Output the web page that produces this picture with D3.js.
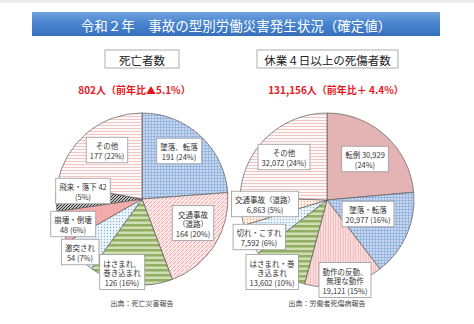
<!DOCTYPE html>
<meta charset="utf-8">
<style>
body { margin: 0; background: #fff; }
svg { display: block; font-family: "Noto Sans CJK JP", sans-serif; }
.lbl text { font-size: 7.5px; fill: #333; text-anchor: middle; dominant-baseline: central; }
.lbl rect { fill: #fff; stroke: #9a9a9a; stroke-width: 0.8; }
</style>
<svg id="chart" width="474" height="324"></svg>
<script src="https://cdn.jsdelivr.net/npm/d3@7"></script>
<script>

// left pie: deaths (死亡者数)
var fatalNames  = ["墜落、転落", "交通事故|（道路）", "はさまれ、|巻き込まれ", "激突され", "崩壊・倒壊", "飛来・落下", "その他"];
var fatalValues = [191, 164, 126, 54, 48, 42, 177];
var fatalInline = [5];      // value written next to the name

// right pie: injuries, 4+ days off (休業4日以上の死傷者数)
var injuryNames  = ["転倒", "墜落・転落", "動作の反動、|無理な動作", "はさまれ・巻|き込まれ", "切れ・こすれ", "交通事故（道路）", "その他"];
var injuryValues = [30929, 20977, 19121, 13602, 7592, 6863, 32072];
var injuryInline = [0];

var titleText   = "令和２年　事故の型別労働災害発生状況（確定値）";
var fatalHead   = "死亡者数";
var injuryHead  = "休業４日以上の死傷者数";
var fatalTotal  = "802人（前年比▲5.1%）";
var injuryTotal = "131,156人（前年比＋ 4.4%）";
var fatalSrc    = "出典：死亡災害報告";
var injurySrc   = "出典：労働者死傷病報告";

// layout only
var fatalFills  = ["gridBlue", "diagRed", "stripeGreen", "dotBlue", "pinkFill", "hatchBlack", "linesPink"];
var injuryFills = ["linesRose", "gridBlue", "vertPink", "stripeGreen", "dotBlue", "dotOrange", "linesPink"];
var fatalLabelPos  = [[37,-48],[51,24],[-20,73],[-62,53],[-69,25],[-59,-8],[-35,-49]];
var injuryLabelPos = [[38,-41],[41,14],[18,80],[-55,72],[-68,37],[-62,4],[-43,-43]];

var svg = d3.select("#chart");
var defs = svg.append("defs");

function pattern(id, w, h, bg) {
  var p = defs.append("pattern").attr("id", id)
    .attr("patternUnits", "userSpaceOnUse")
    .attr("width", w).attr("height", h);
  p.append("rect").attr("width", w).attr("height", h).attr("fill", bg);
  return p;
}

pattern("gridBlue", 3, 3, "#c6d7f0")
  .append("path").attr("d", "M0,0.5H3M0.5,0V3")
  .attr("stroke", "#85a4d6").attr("stroke-width", 0.6);
pattern("diagRed", 4, 4, "#fce6e6")
  .append("path").attr("d", "M0,4L4,0")
  .attr("stroke", "#e27070").attr("stroke-width", 0.9).attr("stroke-dasharray", "1 1");
pattern("stripeGreen", 4, 5, "#cfdeb3")
  .append("rect").attr("width", 4).attr("height", 2.5).attr("fill", "#91ae62");
pattern("dotBlue", 3, 3, "#eef6fb")
  .append("circle").attr("cx", 1.5).attr("cy", 1.5).attr("r", 0.7).attr("fill", "#7fb2d6");
pattern("pinkFill", 4, 4, "#f3a6a6")
  .append("path").attr("d", "M0,4L4,0")
  .attr("stroke", "#f8c4c4").attr("stroke-width", 0.6);
pattern("hatchBlack", 3, 3, "#fff")
  .append("path").attr("d", "M0,3L3,0M-1,1L1,-1M2,4L4,2")
  .attr("stroke", "#222").attr("stroke-width", 1.1);
pattern("linesPink", 4, 3, "#fff")
  .append("path").attr("d", "M0,1.5H4")
  .attr("stroke", "#f2c4c4").attr("stroke-width", 1.2);
pattern("linesRose", 4, 2, "#e6b8b7")
  .append("path").attr("d", "M0,1H4")
  .attr("stroke", "#dca9a8").attr("stroke-width", 0.5);
pattern("vertPink", 2.5, 4, "#fbe1e1")
  .append("path").attr("d", "M1.2,0V4")
  .attr("stroke", "#efb2b2").attr("stroke-width", 0.9);
pattern("dotOrange", 3, 3, "#fdf1e8")
  .append("circle").attr("cx", 1.5).attr("cy", 1.5).attr("r", 0.7).attr("fill", "#f0a878");

var grad = defs.append("linearGradient").attr("id", "titleGrad")
  .attr("x1", 0).attr("y1", 0).attr("x2", 0).attr("y2", 1);
grad.append("stop").attr("offset", "0%").attr("stop-color", "#72a3df");
grad.append("stop").attr("offset", "45%").attr("stop-color", "#4a86cf");
grad.append("stop").attr("offset", "100%").attr("stop-color", "#3670bd");

// faint band at the top
svg.append("rect").attr("x", 0).attr("y", 0).attr("width", 474).attr("height", 3).attr("fill", "#eceef1");

// title bar
svg.append("rect").attr("x", 32).attr("y", 12).attr("width", 408).attr("height", 24).attr("fill", "url(#titleGrad)");
svg.append("text").attr("x", 236).attr("y", 24.5)
  .attr("text-anchor", "middle").attr("dominant-baseline", "central")
  .attr("fill", "#fff").style("font-size", "13.5px")
  .text(titleText);

// heading boxes
function headBox(x, w, txt) {
  svg.append("rect").attr("x", x).attr("y", 50).attr("width", w).attr("height", 18)
    .attr("fill", "#fff").attr("stroke", "#9a9a9a").attr("stroke-width", 0.8);
  svg.append("text").attr("x", x + w / 2).attr("y", 59.5)
    .attr("text-anchor", "middle").attr("dominant-baseline", "central")
    .attr("fill", "#222").style("font-size", "11.5px")
    .text(txt);
}
headBox(105, 74, fatalHead);
headBox(257, 141, injuryHead);

// red totals
function redText(x, txt) {
  svg.append("text").attr("x", x).attr("y", 89)
    .attr("text-anchor", "middle").attr("dominant-baseline", "central")
    .attr("fill", "#e8161c").style("font-size", "10px").style("font-weight", "bold")
    .text(txt);
}
redText(134.5, fatalTotal);
redText(336, injuryTotal);

var fmt = d3.format(",");

function drawPie(cx, cy, r, names, values, fills, offsets, inline) {
  var total = d3.sum(values);
  var pie = d3.pie().sort(null).value(function(d) { return d; });
  var arc = d3.arc().innerRadius(0).outerRadius(r);

  var g = svg.append("g").attr("transform", "translate(" + cx + "," + cy + ")");

  g.selectAll("path")
      .data(pie(values))
    .enter().append("path")
      .attr("d", arc)
      .attr("fill", function(d, i) { return "url(#" + fills[i] + ")"; })
      .attr("stroke", "#5a5a5a")
      .attr("stroke-width", 0.7);

  names.forEach(function(name, i) {
    var pct = "(" + Math.round(values[i] / total * 100) + "%)";
    var parts = name.split("|");
    var lines;
    if (inline.indexOf(i) >= 0) {
      lines = [parts[0] + " " + fmt(values[i]), pct];
    } else {
      lines = parts.concat([fmt(values[i]) + " " + pct]);
    }
    var lh = 9.5;
    var lg = g.append("g").attr("class", "lbl")
      .attr("transform", "translate(" + offsets[i][0] + "," + offsets[i][1] + ")");
    var rect = lg.append("rect");
    var t = lg.append("text");
    lines.forEach(function(l, k) {
      t.append("tspan").attr("x", 0).attr("y", (k - (lines.length - 1) / 2) * lh).text(l);
    });
    var bb = t.node().getBBox();
    rect.attr("x", bb.x - 3.5).attr("y", bb.y - 2.5)
      .attr("width", bb.width + 7).attr("height", bb.height + 5);
  });
}

drawPie(142, 199, 86, fatalNames, fatalValues, fatalFills, fatalLabelPos, fatalInline);
drawPie(327, 200, 87, injuryNames, injuryValues, injuryFills, injuryLabelPos, injuryInline);

// sources
svg.append("text").attr("x", 142).attr("y", 303)
  .attr("text-anchor", "middle").attr("dominant-baseline", "central")
  .attr("fill", "#444").style("font-size", "7px").text(fatalSrc);
svg.append("text").attr("x", 327).attr("y", 303)
  .attr("text-anchor", "middle").attr("dominant-baseline", "central")
  .attr("fill", "#444").style("font-size", "7px").text(injurySrc);

</script>
